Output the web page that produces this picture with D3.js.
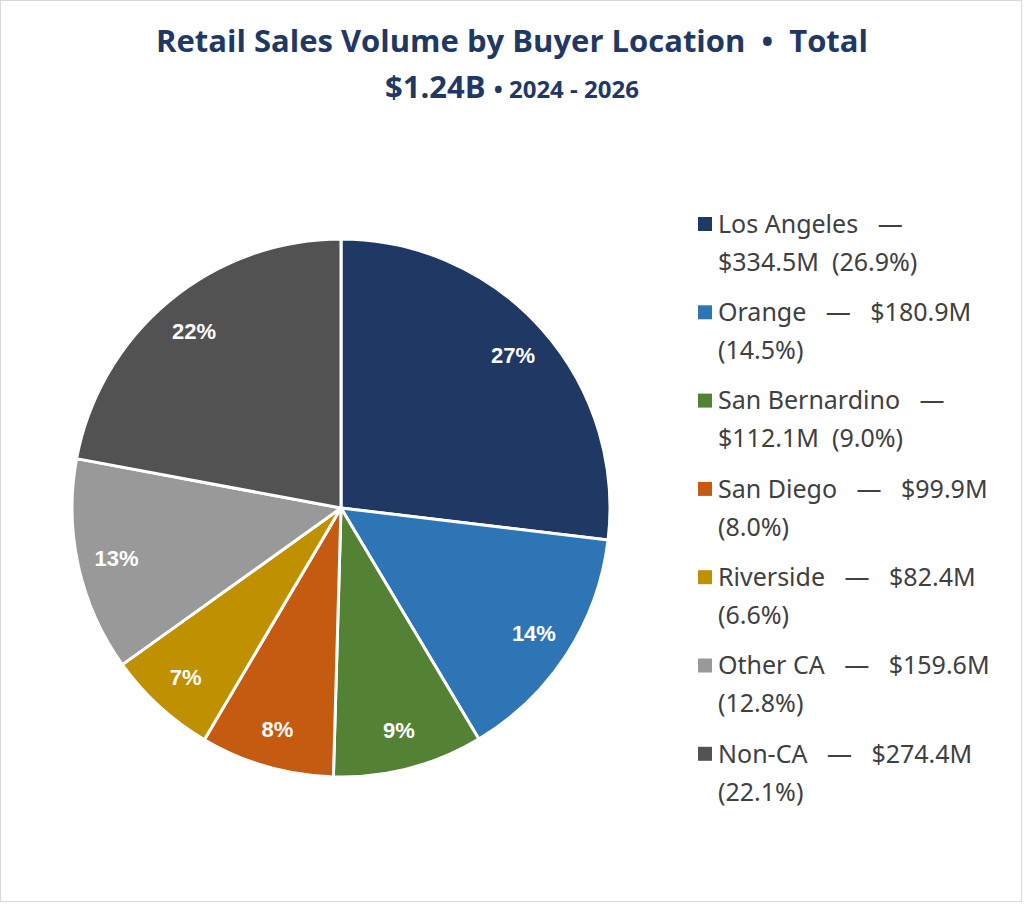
<!DOCTYPE html>
<html><head><meta charset="utf-8">
<script src="https://cdn.jsdelivr.net/npm/d3@7"></script>
<style>body{margin:0;background:#fff}</style>
</head><body>
<script>
// chart data
const locations = ["Los Angeles", "Orange", "San Bernardino", "San Diego", "Riverside", "Other CA", "Non-CA"];
const volumes = [334.5, 180.9, 112.1, 99.9, 82.4, 159.6, 274.4];
const shares = [26.9, 14.5, 9.0, 8.0, 6.6, 12.8, 22.1];
const sliceLabels = ["27%", "14%", "9%", "8%", "7%", "13%", "22%"];
const colors = ["#203864", "#2e75b6", "#548235", "#c55a11", "#bf9000", "#999999", "#525252"];
// legend lines as wrapped in the picture
const legendLines = [
  ["Los Angeles   \u2014", "$334.5M  (26.9%)"],
  ["Orange   \u2014   $180.9M", "(14.5%)"],
  ["San Bernardino   \u2014", "$112.1M  (9.0%)"],
  ["San Diego   \u2014   $99.9M", "(8.0%)"],
  ["Riverside   \u2014   $82.4M", "(6.6%)"],
  ["Other CA   \u2014   $159.6M", "(12.8%)"],
  ["Non-CA   \u2014   $274.4M", "(22.1%)"]
];

const width = 1024, height = 904;
const svg = d3.select("body").append("svg")
  .attr("width", width).attr("height", height)
  .style("font-family", "'Noto Sans', sans-serif");

svg.append("rect").attr("x", 0.5).attr("y", 0.5)
  .attr("width", width - 3).attr("height", height - 3)
  .attr("fill", "#fff").attr("stroke", "#d9d9d9");

// Title
svg.append("text").attr("text-anchor", "middle").attr("x", 512).attr("y", 52)
  .attr("fill", "#1f3864").attr("font-weight", "bold").attr("font-size", 31)
  .attr("xml:space", "preserve").style("white-space", "pre")
  .style("font-family", "'Open Sans', 'Noto Sans', sans-serif")
  .text("Retail Sales Volume by Buyer Location  \u2022  Total");
const t2 = svg.append("text").attr("text-anchor", "middle").attr("x", 512).attr("y", 98)
  .attr("fill", "#1f3864").attr("font-weight", "bold")
  .style("font-family", "'Open Sans', 'Noto Sans', sans-serif");
t2.append("tspan").attr("font-size", 31).text("$1.24B ");
t2.append("tspan").attr("font-size", 24).text("\u2022 2024 - 2026");

// Pie
const cx = 341, cy = 508, r = 269;
const pie = d3.pie().sort(null).value(d => d)(volumes);
const arc = d3.arc().innerRadius(0).outerRadius(r);
const labelArc = d3.arc().innerRadius(230).outerRadius(230);
const g = svg.append("g").attr("transform", `translate(${cx},${cy})`);

g.selectAll("path").data(pie).enter().append("path")
  .attr("d", arc)
  .attr("fill", (d, i) => colors[i])
  .attr("stroke", "#fff").attr("stroke-width", 3).attr("stroke-linejoin", "round");

g.selectAll("text.lbl").data(pie).enter().append("text")
  .attr("class", "lbl")
  .attr("transform", d => `translate(${labelArc.centroid(d)})`)
  .attr("text-anchor", "middle").attr("dy", "0.35em")
  .attr("fill", "#fff").attr("font-weight", "bold").attr("font-size", 22)
  .style("font-family", "'Liberation Sans', Arial, sans-serif")
  .text((d, i) => sliceLabels[i]);

// Legend
const legend = svg.append("g").selectAll("g").data(locations).enter().append("g")
  .attr("transform", (d, i) => `translate(698, ${224 + i * 88.3})`);
legend.append("rect").attr("x", 0).attr("y", -7).attr("width", 14).attr("height", 14)
  .attr("fill", (d, i) => colors[i]);
legend.append("text").attr("x", 20).attr("y", 0)
  .attr("font-size", 25).attr("fill", "#404040")
  .each(function(d, i) {
    const t = d3.select(this);
    legendLines[i].forEach((line, j) => {
      t.append("tspan").attr("x", 20).attr("dy", j === 0 ? "0.35em" : 38)
        .attr("xml:space", "preserve").style("white-space", "pre").text(line);
    });
  });
</script>
</body></html>
